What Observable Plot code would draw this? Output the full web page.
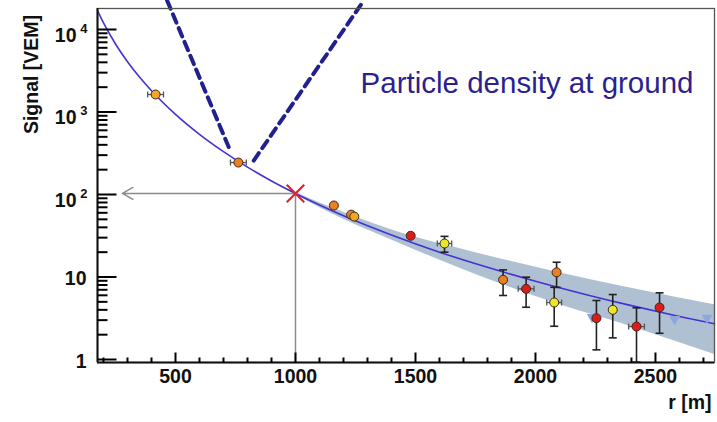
<!DOCTYPE html>
<html><head><meta charset="utf-8">
<script src="https://cdn.jsdelivr.net/npm/d3@7"></script>
<script src="https://cdn.jsdelivr.net/npm/@observablehq/plot@0.6"></script>
<style>
html,body{margin:0;padding:0;background:#fff;}
#chart svg{display:block}
</style></head><body><div id="chart"></div>
<script>
// ---- data ----
// fitted lateral distribution function
const fitR = [175,200,250,300,350,400,500,600,700,800,900,1000,1100,1200,1400,1600,1800,2000,2200,2400,2600,2746];
const fitS = [16900,12000,6680,4070,2650,1810,937,537,331,215,146,103,74.6,55.3,32.3,20.0,13.1,8.89,6.24,4.50,3.33,2.71];
// uncertainty band of the fit
const bandR  = [950,1000,1200,1437,1687,2090,2400,2746];
const bandHi = [123,106,61,34.5,22,11.4,7.3,4.6];
const bandLo = [121.5,100,50,25.3,12.7,4.73,2.5,1.15];
// station signals
const ptR    = [417,762,1160,1232,1245,1480,1621,1865,1961,2088,2078,2254,2322,2421,2517];
const ptS    = [1630,244,73.6,57,54,31.6,25.5,9.25,7.19,11.4,4.91,3.17,4.0,2.51,4.27];
const ptKind = ["amber","orange","orange","orange","amber","red","yellow","orange","red","orange","yellow","red","yellow","red","red"];
const ptLo   = [null,null,null,null,null,null,20,5.97,4.3,7.5,2.53,1.31,1.83,0.93,2.08];
const ptHi   = [null,null,null,null,null,null,31.1,12.2,9.95,15.1,7.5,5.19,6.13,4.23,6.43];
const ptDr   = [33,33,0,0,0,0,30,0,33,0,31,0,0,33,0];
// small markers along the fit
const triR = [2236,2580,2715];
const triS = [3.26,3.08,3.2];
// dashed V lines
const dashLeftR  = [465,722];
const dashLeftS  = [22500,374];
const dashRightR = [826,1285];
const dashRightS = [258,22500];
// S(1000) reference
const refR = [1000];
const refS = [103];
const arrowToR = [279];
// axes
const xDomain = [175,2746];
const yDomain = [0.92,17970];
const xMajor = [500,1000,1500,2000,2500];
const xMinor = [200,300,400,600,700,800,900,1100,1200,1300,1400,1600,1700,1800,1900,2100,2200,2300,2400,2600,2700];
const yMajor = [1,10,100,1000,10000];
const yMinor = [2,3,4,5,6,7,8,9,20,30,40,50,60,70,80,90,200,300,400,500,600,700,800,900,2000,3000,4000,5000,6000,7000,8000,9000];
const yLabelBase = ["1","10","10","10","10"];
const yLabelExp  = ["","","2","3","4"];
const kindColor = {red:"#dc1c1c", orange:"#ec7f1f", amber:"#f0a626", yellow:"#ece62a"};

// ---- layout ----
const W = 717, H = 422, mL = 97, mR = 3, mT = 8, mB = 60;
// tick lengths (px) converted to the scales' units so ticks point inward
const pxPerX = (W - mL - mR) / (xDomain[1] - xDomain[0]);
const pxPerDecade = (H - mT - mB) / Math.log10(yDomain[1] / yDomain[0]);
const xTickEnd = px => xDomain[0] + px / pxPerX;
const yTickEnd = px => yDomain[0] * Math.pow(10, px / pxPerDecade);

// ---- tables ----
const fit = fitR.map((r,i)=>({r, s:fitS[i]}));
const band = bandR.map((r,i)=>({r, hi:bandHi[i], lo:bandLo[i]}));
const pts = ptR.map((r,i)=>({r, s:ptS[i], kind:ptKind[i], lo:ptLo[i], hi:ptHi[i], dr:ptDr[i]}));
const vErr = pts.filter(d=>d.lo!=null);
const hErr = pts.filter(d=>d.dr>0);
const tris = triR.map((r,i)=>({r, s:triS[i]}));
const dashL = dashLeftR.map((r,i)=>({r, s:dashLeftS[i]}));
const dashR = dashRightR.map((r,i)=>({r, s:dashRightS[i]}));
const ref = refR.map((r,i)=>({r, s:refS[i], r2:arrowToR[i]}));
const yLabels = yMajor.map((v,i)=>({v, base:yLabelBase[i], exp:yLabelExp[i]}));
const xTicks = [...xMajor.map(v=>({v, end:yTickEnd(10)})), ...xMinor.map(v=>({v, end:yTickEnd(5)}))];
const yTicks = [...yMajor.map(v=>({v, end:xTickEnd(19)})), ...yMinor.map(v=>({v, end:xTickEnd(10)}))];

const hbar = {draw(ctx,size){const w=Math.sqrt(size/Math.PI); ctx.moveTo(-w,0); ctx.lineTo(w,0);}};
const vbar = {draw(ctx,size){const h=Math.sqrt(size/Math.PI); ctx.moveTo(0,-h); ctx.lineTo(0,h);}};

const font = "'Liberation Sans', Arial, Helvetica, sans-serif";

const chart = Plot.plot({
  width: W, height: H,
  marginLeft: mL, marginRight: mR, marginTop: mT, marginBottom: mB,
  style: {fontFamily: font},
  x: {type: "linear", domain: xDomain},
  y: {type: "log", domain: yDomain, axis: null},
  marks: [
    Plot.areaY(band, {x:"r", y1:"lo", y2:"hi", fill:"#afc0d2", curve:"monotone-x"}),
    Plot.line(fit, {x:"r", y:"s", stroke:"#4332d6", strokeWidth:1.6, curve:"monotone-x"}),
    Plot.line(dashL, {x:"r", y:"s", stroke:"#22208e", strokeWidth:4, strokeDasharray:"9,6"}),
    Plot.line(dashR, {x:"r", y:"s", stroke:"#22208e", strokeWidth:4, strokeDasharray:"9,6"}),
    Plot.ruleX(ref, {x:"r", y1: yDomain[0], y2:"s", stroke:"#8c8c8c", strokeWidth:1.5}),
    Plot.arrow(ref, {x1:"r", y1:"s", x2:"r2", y2:"s", stroke:"#8c8c8c", strokeWidth:1.5, headLength:12, headAngle:60}),
    Plot.dot(tris, {x:"r", y:"s", symbol:"triangle", rotate:180, r:4, fill:"#8ea6da", stroke:"none"}),
    // error bars
    Plot.link(vErr, {x1:"r", x2:"r", y1:"lo", y2:"hi", stroke:"#222", strokeWidth:1.6}),
    Plot.dot(vErr, {x:"r", y:"lo", symbol:hbar, r:4, fill:"none", stroke:"#222", strokeWidth:1.6}),
    Plot.dot(vErr, {x:"r", y:"hi", symbol:hbar, r:4, fill:"none", stroke:"#222", strokeWidth:1.6}),
    Plot.link(hErr, {x1:d=>d.r-d.dr, x2:d=>d.r+d.dr, y1:"s", y2:"s", stroke:"#555", strokeWidth:1.3}),
    Plot.dot(hErr, {x:d=>d.r-d.dr, y:"s", symbol:vbar, r:3, fill:"none", stroke:"#555", strokeWidth:1.3}),
    Plot.dot(hErr, {x:d=>d.r+d.dr, y:"s", symbol:vbar, r:3, fill:"none", stroke:"#555", strokeWidth:1.3}),
    Plot.dot(pts, {x:"r", y:"s", r:4.5, fill:d=>kindColor[d.kind], stroke:"#3a2a1a", strokeWidth:1}),
    Plot.dot(ref, {x:"r", y:"s", symbol:"times", r:8, stroke:"#e8202a", strokeWidth:2.2}),
    // frame
    Plot.frame({stroke:"#555", strokeWidth:1.3}),
    Plot.ruleX([xDomain[0]], {stroke:"#111", strokeWidth:2}),
    Plot.ruleY([yDomain[0]], {stroke:"#111", strokeWidth:2}),
    // inward tick marks
    Plot.link(xTicks, {x1:"v", x2:"v", y1:yDomain[0], y2:"end", stroke:"#000", strokeWidth:2}),
    Plot.link(yTicks, {x1:xDomain[0], x2:"end", y1:"v", y2:"v", stroke:"#000", strokeWidth:2}),
    // tick labels
    Plot.axisX(xMajor, {tickSize:0, tickPadding:7, tickFormat:d=>String(d), label:null, fontSize:19.5, fontWeight:"bold", fill:"#111"}),
    Plot.text(yLabels.filter(d=>!d.exp), {y:"v", text:"base", frameAnchor:"left", textAnchor:"end", dx:-11, dy:2, fontSize:19.5, fontWeight:"bold", fill:"#111"}),
    Plot.text(yLabels.filter(d=>d.exp), {y:"v", text:"base", frameAnchor:"left", textAnchor:"end", dx:-21, dy:6, fontSize:19.5, fontWeight:"bold", fill:"#111"}),
    Plot.text(yLabels.filter(d=>d.exp), {y:"v", text:"exp", frameAnchor:"left", textAnchor:"end", dx:-10, dy:-1, fontSize:13, fontWeight:"bold", fill:"#111"}),
    // titles
    Plot.text(["Signal [VEM]"], {frameAnchor:"top-left", rotate:-90, dx:-73, dy:66, textAnchor:"middle", fontSize:19.5, fontWeight:"bold", fill:"#111"}),
    Plot.text(["r [m]"], {frameAnchor:"bottom-right", textAnchor:"end", dx:-3, dy:46, fontSize:19.5, fontWeight:"bold", fill:"#111"}),
    Plot.text(["Particle density at ground"], {frameAnchor:"top-right", textAnchor:"end", dx:-21, dy:63.6, fontSize:29.5, fill:"#2c1f91"})
  ]
});
document.getElementById("chart").appendChild(chart);
</script>
</body></html>
